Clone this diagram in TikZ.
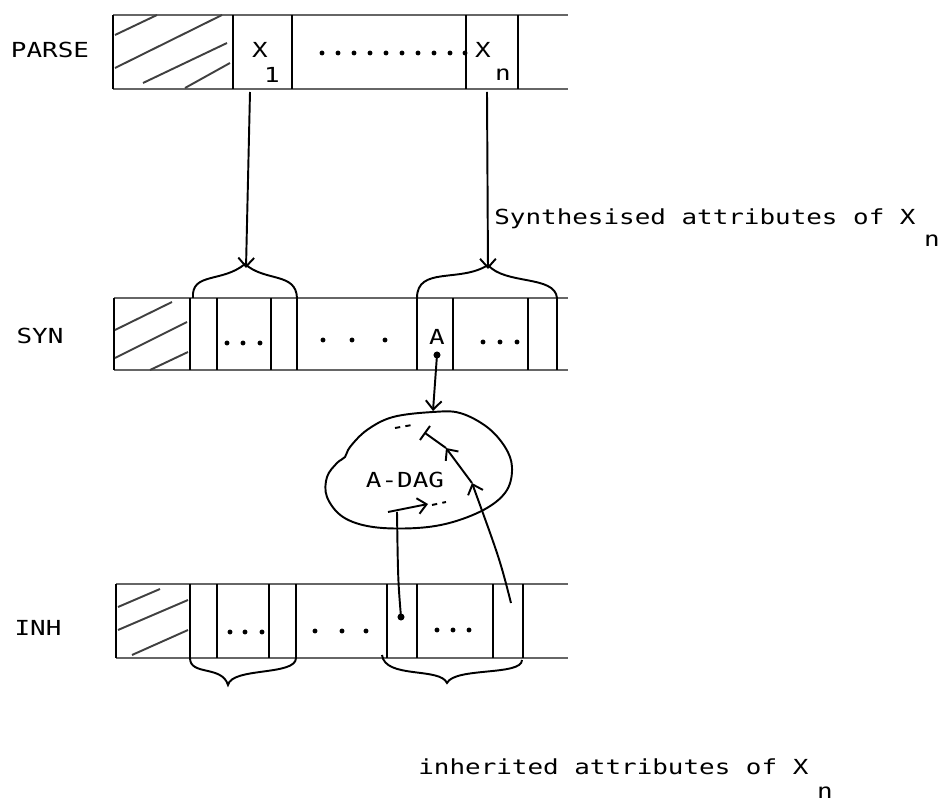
\documentclass[tikz,border=0pt]{standalone}
\usepackage{fontspec}
\newfontfamily\typewr[FakeStretch=1.25]{DejaVu Sans Mono}
\usetikzlibrary{arrows.meta}
\tikzset{
  txt/.style={font=\typewr\fontsize{11.8}{14}\selectfont, inner sep=0pt},
  rowline/.style={draw=black!60, line width=1.6pt},
  cell/.style={line width=1.5pt},
  hatch/.style={line width=1.1pt, black!75},
  hand/.style={line width=1.1pt},
}
\begin{document}
\begin{tikzpicture}[x=0.02cm, y=-0.02cm, >={Straight Barb[length=5pt,width=9pt]}]
\useasboundingbox (0,0) rectangle (941,804);
% PARSE row
\node[txt] (parse) at (50,50) {PARSE};
\draw[rowline] (113,15) -- (568,15);
\draw[rowline] (113,89) -- (568,89);
\foreach \x in {113,233,292,466,518} \draw[cell] (\x,15) -- (\x,89);
\draw[hatch] (115,35) -- (157,15);
\draw[hatch] (115,68) -- (222,15);
\draw[hatch] (143,83) -- (227,43);
\draw[hatch] (185,88) -- (230,63);
\node[txt] (x1) at (260,50) {X};
\node[txt] (x1sub) at (272,75) {1};
\node[txt] (xn) at (483,50) {X};
\node[txt] (xnsub) at (503,75) {n};
\foreach \x in {322,338,...,450} \fill (\x,53) circle (1.4pt);
\fill (465,53) circle (1.4pt);
% SYN row
\node[txt] (syn) at (40,336) {SYN};
\draw[rowline] (114,298) -- (568,298);
\draw[rowline] (114,370) -- (568,370);
\foreach \x in {114,190,217,271,297,417,453,528,557} \draw[cell] (\x,298) -- (\x,370);
\draw[hatch] (115,330) -- (172,302);
\draw[hatch] (115,358) -- (187,322);
\draw[hatch] (150,370) -- (188,352);
\foreach \x in {227,243,260} \fill (\x,343) circle (1.4pt);
\foreach \x in {323,352,385} \fill (\x,340) circle (1.4pt);
\foreach \x in {483,500,517} \fill (\x,342) circle (1.4pt);
\node[txt] (a) at (437,337) {A};
% INH row
\node[txt] (inh) at (38,628) {INH};
\draw[rowline] (116,584) -- (568,584);
\draw[rowline] (116,658) -- (568,658);
\foreach \x in {116,190,217,269,296,387,417,493,523} \draw[cell] (\x,584) -- (\x,658);
\draw[hatch] (118,607) -- (160,589);
\draw[hatch] (118,630) -- (188,600);
\draw[hatch] (132,655) -- (188,630);
\foreach \x in {230,245,262} \fill (\x,632) circle (1.4pt);
\foreach \x in {315,342,366} \fill (\x,631) circle (1.4pt);
\foreach \x in {437,453,469} \fill (\x,630) circle (1.4pt);
% braces
\coordinate (tipSL) at (245,264);
\coordinate (tipSR) at (488,265);
\coordinate (tipIL) at (228,685);
\coordinate (tipIR) at (447,683);
\draw[hand] (193,298) .. controls (191,272) and (222,283) .. (tipSL) .. controls (265,282) and (296,272) .. (297,298);
\draw[hand] (417,298) .. controls (417,266) and (460,283) .. (tipSR) .. controls (505,285) and (555,275) .. (557,298);
\draw[hand] (190,658) .. controls (190,676) and (222,665) .. (tipIL) .. controls (232,667) and (296,676) .. (296,658);
\draw[hand] (382,655) .. controls (385,679) and (440,667) .. (tipIR) .. controls (455,667) and (522,676) .. (522,660);
% arrows from PARSE
\coordinate (x1foot) at (250,92);
\coordinate (xnfoot) at (487,92);
\draw[hand,->] (x1foot) -- (246,268);
\draw[hand,->] (xnfoot) -- (488,269);
% A-DAG
\draw[hand] plot[smooth cycle, tension=0.6] coordinates {(433,412) (460,413) (487,427) (505,447) (512,467) (507,490) (487,508) (453,522) (417,528) (373,527) (343,517) (327,497) (327,477) (337,463) (345,457) (350,447) (367,430) (393,417)};
\node[txt] (adag) at (405,480) {A-DAG};
\coordinate (adot) at (437,355);
\coordinate (dagtop) at (433,411);
\fill (adot) circle (2pt);
\draw[hand,->] (adot) -- (dagtop);
\coordinate (inhA) at (401,617);
\coordinate (inhB) at (511,603);
\fill (inhA) circle (2pt);
\draw[hand] (inhA) .. controls (398,580) .. (397,512);
\draw[hand,->] (388,512) -- (428,504);
\draw[hand, dash pattern=on 3pt off 3pt] (432,505) -- (446,502);
\draw[hand,->] (inhB) .. controls (500,560) .. (472,483);
\draw[hand,->] (472,483) -- (446,448);
\draw[hand] (446,448) -- (425,433);
\draw[hand] (420,440) -- (430,426);
\draw[hand, dash pattern=on 3pt off 3pt] (395,428) -- (412,425);
% attribute labels
\node[txt, anchor=base west] (synth) at (494,225) {Synthesised attributes of X};
\node[txt, anchor=base] (synthsub) at (932,247) {n};
\node[txt, anchor=base west] (inher) at (418,774) {inherited attributes of X};
\node[txt, anchor=base] (inhersub) at (825,798) {n};
\end{tikzpicture}
\end{document}
